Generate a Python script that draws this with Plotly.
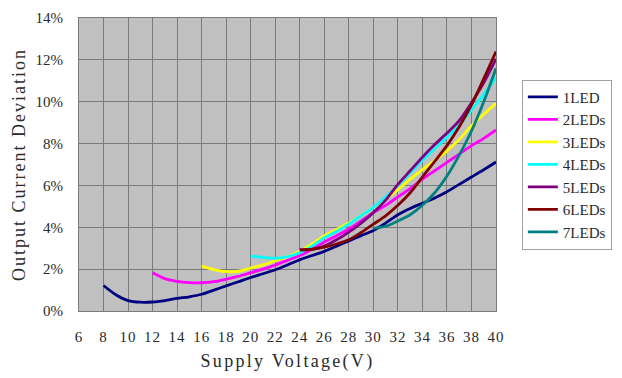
import plotly.graph_objects as go

# Supply voltage (V) and output current deviation (%) for each LED string length
v_1led = [8, 9, 10, 11, 12, 13, 14, 15, 16, 17, 18, 19, 20, 21, 22, 23, 24, 25, 26, 27, 28, 29, 30, 31, 32, 33, 34, 35, 36, 37, 38, 39, 40]
d_1led = [1.22, 0.78, 0.5, 0.42, 0.43, 0.5, 0.6, 0.68, 0.8, 1.0, 1.2, 1.4, 1.6, 1.78, 1.97, 2.2, 2.45, 2.65, 2.85, 3.1, 3.35, 3.6, 3.85, 4.2, 4.6, 4.9, 5.15, 5.4, 5.7, 6.05, 6.4, 6.75, 7.12]

v_2leds = [12, 13, 14, 15, 16, 17, 18, 19, 20, 21, 22, 23, 24, 25, 26, 27, 28, 29, 30, 31, 32, 33, 34, 35, 36, 37, 38, 39, 40]
d_2leds = [1.83, 1.55, 1.42, 1.36, 1.35, 1.4, 1.52, 1.66, 1.83, 2.0, 2.2, 2.42, 2.65, 2.95, 3.3, 3.6, 3.92, 4.3, 4.7, 5.05, 5.45, 5.85, 6.3, 6.7, 7.1, 7.5, 7.9, 8.25, 8.65]

v_3leds = [16, 17, 18, 19, 20, 21, 22, 23, 24, 25, 26, 27, 28, 29, 30, 31, 32, 33, 34, 35, 36, 37, 38, 39, 40]
d_3leds = [2.14, 1.98, 1.88, 1.9, 2.05, 2.2, 2.4, 2.6, 2.85, 3.2, 3.6, 3.9, 4.2, 4.55, 4.95, 5.35, 5.8, 6.3, 6.75, 7.2, 7.65, 8.2, 8.85, 9.4, 9.92]

v_4leds = [20, 21, 22, 23, 24, 25, 26, 27, 28, 29, 30, 31, 32, 33, 34, 35, 36, 37, 38, 39, 40]
d_4leds = [2.62, 2.56, 2.52, 2.6, 2.78, 3.1, 3.5, 3.8, 4.15, 4.55, 4.95, 5.45, 6.0, 6.6, 7.2, 7.75, 8.3, 8.9, 9.6, 10.35, 11.15]

v_5leds = [24, 25, 26, 27, 28, 29, 30, 31, 32, 33, 34, 35, 36, 37, 38, 39, 40]
d_5leds = [2.92, 2.95, 3.1, 3.4, 3.77, 4.2, 4.7, 5.3, 6.05, 6.7, 7.35, 7.95, 8.5, 9.1, 9.95, 10.9, 12.05]

v_6leds = [24, 25, 26, 27, 28, 29, 30, 31, 32, 33, 34, 35, 36, 37, 38, 39, 40]
d_6leds = [2.92, 2.95, 3.05, 3.2, 3.4, 3.75, 4.15, 4.55, 5.05, 5.65, 6.4, 7.15, 7.9, 8.8, 9.85, 11.1, 12.4]

v_7leds = [30, 31, 32, 33, 34, 35, 36, 37, 38, 39, 40]
d_7leds = [3.95, 4.05, 4.3, 4.6, 5.05, 5.65, 6.45, 7.45, 8.6, 10.0, 11.6]

series = [
    ("1LED", v_1led, d_1led, "#000080"),
    ("2LEDs", v_2leds, d_2leds, "#FF00FF"),
    ("3LEDs", v_3leds, d_3leds, "#FFFF00"),
    ("4LEDs", v_4leds, d_4leds, "#00FFFF"),
    ("5LEDs", v_5leds, d_5leds, "#800080"),
    ("6LEDs", v_6leds, d_6leds, "#800000"),
    ("7LEDs", v_7leds, d_7leds, "#008080"),
]

x_ticks = list(range(6, 41, 2))
y_ticks = list(range(0, 15, 2))

FONT = "Liberation Serif"
TEXT = "#2a2a2a"


def spaced(text, px):
    """Wrap a label so its letters are spread out like a fixed-pitch face."""
    return f'<span style="letter-spacing:{px}px">{text}</span>'


fig = go.Figure()
for name, xs, ys, color in series:
    fig.add_trace(go.Scatter(
        x=xs, y=ys, name=name, mode="lines",
        line=dict(color=color, width=2.8, shape="spline", smoothing=0.8),
    ))

fig.update_layout(
    width=622, height=378,
    margin=dict(l=79, r=125, t=10, b=67),
    paper_bgcolor="white",
    plot_bgcolor="#C0C0C0",
    font=dict(family=FONT, color=TEXT, size=15),
    legend=dict(
        x=1.062, y=0.79, xanchor="left", yanchor="top",
        bgcolor="white", bordercolor="#a0a0a0", borderwidth=1,
        font=dict(family=FONT, size=15, color=TEXT),
        itemwidth=30,
    ),
    showlegend=True,
)

fig.update_xaxes(
    range=[6, 40], tickvals=x_ticks, ticktext=[spaced(str(t), 1) for t in x_ticks],
    showgrid=True, gridcolor="#7a7a7a", gridwidth=1,
    showline=True, linecolor="#7a7a7a", linewidth=1, mirror=True,
    ticks="", ticklabelstandoff=12,
    tickfont=dict(family=FONT, size=15, color=TEXT),
    title=dict(text=spaced("Supply Voltage(V)", 2.3), font=dict(family=FONT, size=18, color=TEXT), standoff=10),
    zeroline=False,
)
fig.update_yaxes(
    range=[0, 14], tickvals=y_ticks, ticktext=[f"{t}%" for t in y_ticks],
    showgrid=True, gridcolor="#7a7a7a", gridwidth=1,
    showline=True, linecolor="#7a7a7a", linewidth=1, mirror=True,
    ticks="", ticklabelstandoff=12,
    tickfont=dict(family=FONT, size=15, color=TEXT),
    title=dict(text=spaced("Output Current Deviation", 2.0), font=dict(family=FONT, size=18, color=TEXT), standoff=5),
    zeroline=False,
)

fig.write_html("out.html")
